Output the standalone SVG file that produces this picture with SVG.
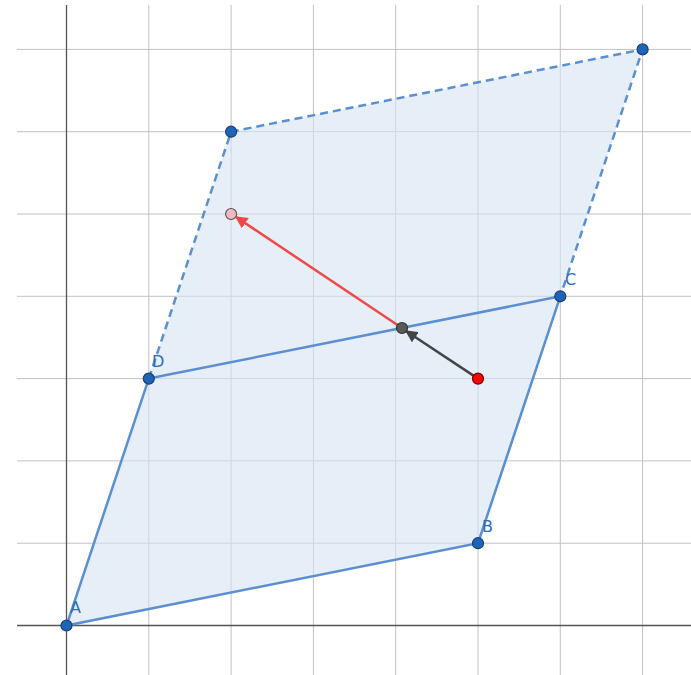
<svg xmlns="http://www.w3.org/2000/svg" width="691" height="675" viewBox="0 0 691 675">
<style>
.g{stroke:#c0c2c8;stroke-width:1}
.ax{stroke:#555;stroke-width:1.3}
.s{stroke:#5b8fd0;stroke-width:2.5;fill:none;stroke-linecap:round}
.d{stroke:#5b8fd0;stroke-width:2.5;fill:none;stroke-dasharray:8,5}
.pt{fill:#1e64b8;stroke:#1a3f70;stroke-width:1.2}
.lb{font-family:"DejaVu Sans",sans-serif;font-size:16px;fill:#2e6db4}
</style>
<defs>
<marker id="ar" viewBox="0 0 10 10" refX="9" refY="5" markerWidth="5" markerHeight="5" orient="auto"><path d="M0,0 L10,5 L0,10 z" fill="#f04848"/></marker>
<marker id="ag" viewBox="0 0 10 10" refX="9" refY="5" markerWidth="5" markerHeight="5" orient="auto"><path d="M0,0 L10,5 L0,10 z" fill="#444"/></marker>
</defs>
<rect width="691" height="675" fill="#fff"/>
<g id="grid">
<line class="g" x1="148.8" y1="5" x2="148.8" y2="675"/>
<line class="g" x1="231.1" y1="5" x2="231.1" y2="675"/>
<line class="g" x1="313.4" y1="5" x2="313.4" y2="675"/>
<line class="g" x1="395.7" y1="5" x2="395.7" y2="675"/>
<line class="g" x1="478" y1="5" x2="478" y2="675"/>
<line class="g" x1="560.3" y1="5" x2="560.3" y2="675"/>
<line class="g" x1="642.6" y1="5" x2="642.6" y2="675"/>
<line class="g" x1="17" y1="543.2" x2="691" y2="543.2"/>
<line class="g" x1="17" y1="460.9" x2="691" y2="460.9"/>
<line class="g" x1="17" y1="378.6" x2="691" y2="378.6"/>
<line class="g" x1="17" y1="296.3" x2="691" y2="296.3"/>
<line class="g" x1="17" y1="214" x2="691" y2="214"/>
<line class="g" x1="17" y1="131.7" x2="691" y2="131.7"/>
<line class="g" x1="17" y1="49.4" x2="691" y2="49.4"/>
<line class="ax" x1="66.5" y1="5" x2="66.5" y2="675"/>
<line class="ax" x1="17" y1="625.5" x2="691" y2="625.5"/>
</g>
<g id="region">
<polygon points="66.5,625.5 478,543.2 560.3,296.3 642.6,49.4 231.1,131.7 148.8,378.6" fill="#d6e4f4" fill-opacity="0.6"/>
</g>
<g id="connectors">
<polyline class="s" points="148.8,378.6 66.5,625.5 478,543.2 560.3,296.3"/>
<line class="s" x1="148.8" y1="378.6" x2="560.3" y2="296.3" stroke="#3f78c0"/>
<polyline class="d" points="148.8,378.6 231.1,131.7 642.6,49.4 560.3,296.3"/>
<line x1="402" y1="328" x2="236" y2="217" stroke="#f04848" stroke-width="2.5" marker-end="url(#ar)"/>
<line x1="478" y1="378.6" x2="406" y2="331" stroke="#444" stroke-width="2.5" marker-end="url(#ag)"/>
</g>
<g id="A"><circle class="pt" cx="66.5" cy="625.5" r="5.5"/><text class="lb" x="70" y="613">A</text></g>
<g id="B"><circle class="pt" cx="478" cy="543.2" r="5.5"/><text class="lb" x="482" y="532">B</text></g>
<g id="C"><circle class="pt" cx="560.3" cy="296.3" r="5.5"/><text class="lb" x="565" y="285">C</text></g>
<g id="D"><circle class="pt" cx="148.8" cy="378.6" r="5.5"/><text class="lb" x="152" y="367">D</text></g>
<g id="P1"><circle class="pt" cx="231.1" cy="131.7" r="5.5"/></g>
<g id="P2"><circle class="pt" cx="642.6" cy="49.4" r="5.5"/></g>
<g id="P3"><circle cx="231.1" cy="214" r="5.5" fill="#f4b8c0" stroke="#555" stroke-width="1.2"/></g>
<g id="P4"><circle cx="402" cy="328" r="5.5" fill="#5a5a5a" stroke="#333" stroke-width="1.2"/></g>
<g id="P5"><circle cx="478" cy="378.6" r="5.5" fill="#f00" stroke="#700" stroke-width="1.2"/></g>
</svg>
